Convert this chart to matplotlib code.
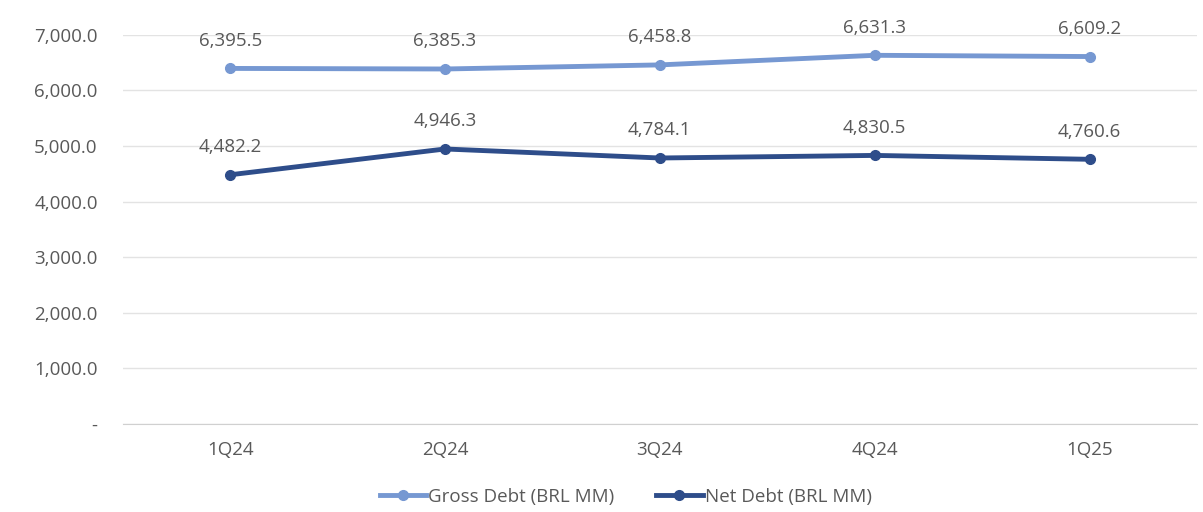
import matplotlib
matplotlib.use("Agg")
import matplotlib.pyplot as plt
from matplotlib.ticker import FuncFormatter

quarters = ["1Q24", "2Q24", "3Q24", "4Q24", "1Q25"]
gross_debt = [6395.5, 6385.3, 6458.8, 6631.3, 6609.2]
net_debt = [4482.2, 4946.3, 4784.1, 4830.5, 4760.6]
y_ticks = [0, 1000, 2000, 3000, 4000, 5000, 6000, 7000]

plt.rcParams['font.family'] = ['Open Sans', 'DejaVu Sans']
text_color = '#595959'

fig = plt.figure(figsize=(12.03, 5.12), dpi=100)
ax = fig.add_axes([0.102, 0.172, 0.893, 0.76])

x = range(len(quarters))
l1, = ax.plot(x, gross_debt, color='#7698d2', lw=3.5, marker='o', ms=7,
              label='Gross Debt (BRL MM)')
l2, = ax.plot(x, net_debt, color='#2e4d8a', lw=3.5, marker='o', ms=7,
              label='Net Debt (BRL MM)')

# data labels centred above each point
for series in (gross_debt, net_debt):
    for xi, v in zip(x, series):
        ax.annotate(f"{v:,.1f}", (xi, v), xytext=(0, 20), textcoords='offset points',
                    ha='center', va='center', fontsize=13.5, color=text_color)

ax.set_xlim(-0.5, len(quarters) - 0.5)
ax.set_ylim(0, 7000)
ax.set_xticks(list(x))
ax.set_xticklabels(quarters)
ax.set_yticks(y_ticks)
ax.yaxis.set_major_formatter(FuncFormatter(lambda v, p: '-' if v == 0 else f"{v:,.1f}"))
ax.tick_params(axis='both', length=0, labelsize=13.5, colors=text_color)
ax.tick_params(axis='x', pad=12)
ax.tick_params(axis='y', pad=18)
ax.grid(axis='y', color='#e3e3e3', lw=1)
ax.set_axisbelow(True)
for s in ['top', 'right', 'left']:
    ax.spines[s].set_visible(False)
ax.spines['bottom'].set_color('#d0d0d0')

fig.legend(handles=[l1, l2], loc='center', bbox_to_anchor=(0.52, 0.03), ncol=2,
           frameon=False, fontsize=13.5, labelcolor=text_color, handlelength=2.5,
           handletextpad=0.1, columnspacing=2.2)

fig.savefig('out.png', dpi=100)
